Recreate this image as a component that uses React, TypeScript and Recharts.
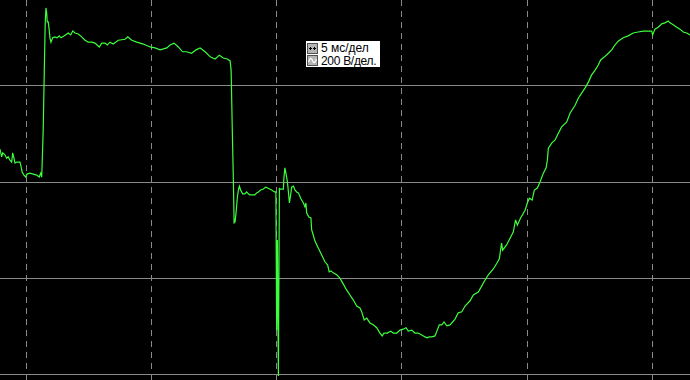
import React from "react";
import { LineChart, Line, XAxis, YAxis, ReferenceLine } from "recharts";

// scope settings: 5 ms per division, 200 V per division
const TIME_DIVS_MS = [0, 5, 10, 15, 20, 25];
const VOLT_DIVS_V = [200, 0, -200, -400];
const LEGEND_ROWS = ["5 мс/дел", "200 В/дел."];

// trace (ms, V)
const TIME_MS = [
  -1.07, -1.0, -0.96, -0.87, -0.8, -0.74, -0.67, -0.6, -0.56, -0.51, -0.47, -0.4, -0.27, -0.23, -0.18, -0.11, -0.04,
  0.01, 0.13, 0.26, 0.4, 0.5, 0.56, 0.6, 0.62, 0.66, 0.7, 0.74, 0.77, 0.8, 0.82, 0.86, 0.9, 0.93, 0.97, 1.04, 1.13,
  1.22, 1.3, 1.37, 1.49, 1.66, 1.76, 1.84, 1.93, 2.06, 2.2, 2.33, 2.46, 2.6, 2.73, 2.9, 3.0, 3.13, 3.22, 3.33, 3.46,
  3.66, 3.93, 4.04, 4.2, 4.4, 4.66, 4.93, 5.13, 5.33, 5.6, 5.73, 5.89, 6.06, 6.23, 6.39, 6.59, 6.77, 6.93, 7.13, 7.35,
  7.53, 7.7, 7.86, 8.02, 8.13, 8.17, 8.22, 8.26, 8.29, 8.33, 8.37, 8.42, 8.46, 8.5, 8.55, 8.63, 8.72, 8.79, 8.86, 8.92,
  9.12, 9.19, 9.26, 9.35, 9.46, 9.55, 9.63, 9.79, 9.9, 9.96, 9.99, 10.02, 10.06, 10.1, 10.12, 10.26, 10.28, 10.32,
  10.36, 10.42, 10.46, 10.5, 10.55, 10.59, 10.66, 10.72, 10.79, 10.86, 10.95, 11.06, 11.12, 11.16, 11.19, 11.28,
  11.36, 11.39, 11.45, 11.52, 11.65, 11.79, 11.92, 12.03, 12.09, 12.16, 12.25, 12.39, 12.52, 12.65, 12.79, 12.92,
  13.05, 13.19, 13.32, 13.39, 13.49, 13.59, 13.72, 13.85, 13.99, 14.12, 14.21, 14.28, 14.41, 14.55, 14.65, 14.79,
  14.92, 15.05, 15.16, 15.25, 15.39, 15.52, 15.65, 15.79, 15.92, 16.01, 16.09, 16.19, 16.32, 16.41, 16.49, 16.59,
  16.68, 16.79, 16.92, 17.12, 17.25, 17.39, 17.52, 17.72, 17.85, 18.05, 18.19, 18.32, 18.45, 18.65, 18.79, 18.89,
  18.98, 19.02, 19.18, 19.32, 19.45, 19.54, 19.61, 19.74, 19.92, 20.01, 20.09, 20.2, 20.29, 20.41, 20.52, 20.65,
  20.76, 20.81, 20.85, 20.99, 21.12, 21.25, 21.38, 21.58, 21.72, 21.92, 22.05, 22.18, 22.32, 22.45, 22.58, 22.72,
  22.85, 22.94, 23.08, 23.25, 23.38, 23.51, 23.64, 23.84, 24.04, 24.24, 24.44, 24.64, 24.84, 24.98, 25.02, 25.11,
  25.24, 25.38, 25.51, 25.64, 25.71, 25.84, 25.98, 26.11, 26.24, 26.38, 26.51,
];

const VOLTS = [
  69, 53, 61, 57, 50, 53, 46, 42, 61, 50, 40, 42, 42, 34, 21, 15, 11,
  17, 19, 17, 15, 11, 19, 11, 42, 109, 223, 331, 362, 351, 333, 333, 316, 300, 291, 300, 302,
  300, 304, 300, 304, 310, 306, 314, 310, 308, 302, 295, 291, 291, 289, 281, 289, 289, 285, 291, 287,
  295, 297, 302, 295, 291, 287, 281, 279, 275, 279, 285, 289, 281, 271, 271, 268, 275, 279, 271, 260,
  256, 264, 258, 256, 252, 233, 102, 5, -84, -82, -62, -31, -16, -8, -16, -24, -24, -20, -24, -26,
  -26, -22, -20, -16, -14, -10, -12, -16, -20, -20, -307, -120, -402, -12, -14, -14, 9, 30,
  19, 1, -20, -43, -26, -10, -8, -16, -20, -22, -33, -43, -51, -43, -64, -72,
  -74, -99, -109, -122, -136, -151, -165, -172, -186, -184, -188, -192, -199, -211, -224, -234,
  -244, -257, -261, -269, -286, -282, -292, -296, -302, -313, -319, -313, -313, -309, -313, -313,
  -307, -305, -302, -309, -307, -313, -313, -317, -321, -323, -321, -321, -319, -307, -296, -296,
  -290, -298, -296, -284, -271, -269, -257, -246, -234, -228, -215, -203, -192, -180, -168, -159,
  -126, -141, -130, -116, -103, -78, -89, -74, -58, -43, -33, -37, -16, -12, 1, 19,
  30, 46, 71, 82, 88, 102, 115, 125, 144, 160, 175, 185, 196, 208, 223, 233,
  244, 254, 260, 268, 275, 285, 293, 300, 304, 310, 312, 314, 314, 314, 306, 318,
  322, 329, 331, 335, 331, 327, 322, 318, 312, 310, 306,
];

const trace = TIME_MS.map((t, i) => ({ t, v: VOLTS[i] }));

const GRID = "#8a8a8a";
const TRACE = "#3cff3c";

function TimeIcon() {
  return (
    <svg width={11} height={11} style={{ display: "block" }}>
      <rect x={0.5} y={0.5} width={10} height={10} fill="#b4b4b4" stroke="#505050" />
      <path d="M2 5.5h3M3.5 4v3M6 5.5h3M7.5 4v3" stroke="#000" strokeWidth={1} shapeRendering="crispEdges" />
    </svg>
  );
}

function WaveIcon() {
  return (
    <svg width={11} height={11} style={{ display: "block" }}>
      <rect x={0.5} y={0.5} width={10} height={10} fill="#b4b4b4" stroke="#505050" />
      <path d="M1.5 7 C3 2.5, 4.5 2.5, 5.5 5.5 S8 8.5, 9.5 4" fill="none" stroke="#ffffff" strokeWidth={1.2} />
    </svg>
  );
}

export default function App() {
  return (
    <div style={{ position: "absolute", left: 0, top: 0, width: 690, height: 380, background: "#000" }}>
      <LineChart width={690} height={380} data={trace} margin={{ top: 0, right: 0, bottom: 0, left: 0 }}>
        <XAxis dataKey="t" type="number" domain={[-1.067, 26.511]} allowDataOverflow hide />
        <YAxis type="number" domain={[-410.5, 378.5]} allowDataOverflow hide />
        {VOLT_DIVS_V.map((v) => (
          <ReferenceLine key={`h${v}`} y={v} stroke={GRID} strokeWidth={1} shapeRendering="crispEdges" />
        ))}
        {TIME_DIVS_MS.map((t) => (
          <ReferenceLine
            key={`v${t}`}
            x={t}
            stroke={GRID}
            strokeWidth={1}
            strokeDasharray="6 5"
            shapeRendering="crispEdges"
          />
        ))}
        <Line
          dataKey="v"
          type="linear"
          stroke={TRACE}
          strokeWidth={1.2}
          dot={false}
          activeDot={false}
          isAnimationActive={false}
        />
      </LineChart>
      <div
        style={{
          position: "absolute",
          left: 306,
          top: 41,
          width: 74,
          height: 26,
          background: "#fff",
          fontFamily: "'Liberation Sans', Arial, sans-serif",
          fontSize: 12,
          color: "#000",
        }}
      >
        {LEGEND_ROWS.map((label, i) => (
          <div key={label} style={{ display: "flex", alignItems: "center", height: 12.5, marginTop: i === 0 ? 1 : 0 }}>
            <div style={{ marginLeft: 1, marginRight: 3 }}>{i === 0 ? <TimeIcon /> : <WaveIcon />}</div>
            <span style={{ whiteSpace: "nowrap", lineHeight: "12px", letterSpacing: i === 1 ? -0.3 : 0 }}>{label}</span>
          </div>
        ))}
      </div>
    </div>
  );
}
